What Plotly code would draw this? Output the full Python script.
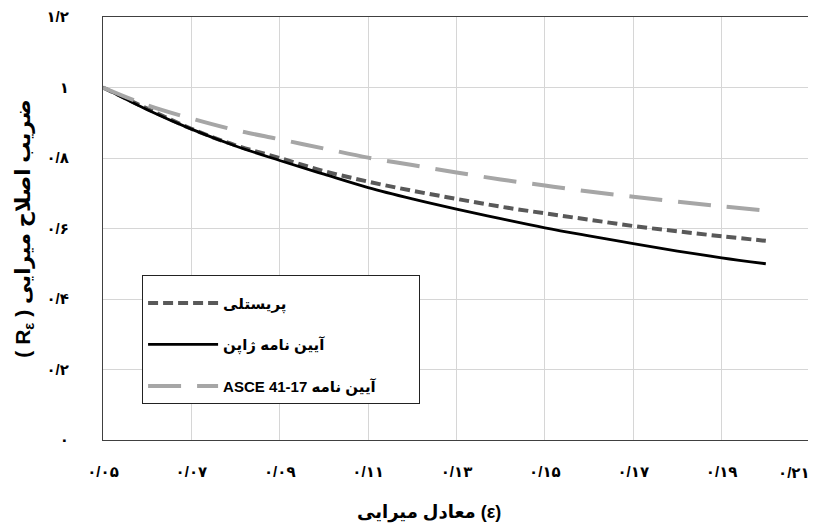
import plotly.graph_objects as go

# Equivalent damping ratio (x) and damping correction factor values
damping = [0.05, 0.06, 0.07, 0.08, 0.09, 0.10, 0.11, 0.12, 0.13, 0.14, 0.15, 0.16, 0.17, 0.18, 0.19, 0.20]
priestley = [1.0, 0.940, 0.883, 0.836, 0.800, 0.763, 0.733, 0.707, 0.684, 0.662, 0.643, 0.625, 0.607, 0.592, 0.578, 0.565]
japan = [1.0, 0.937, 0.882, 0.834, 0.793, 0.754, 0.716, 0.684, 0.655, 0.628, 0.602, 0.579, 0.557, 0.536, 0.517, 0.500]
asce = [1.0, 0.950, 0.912, 0.879, 0.853, 0.827, 0.801, 0.780, 0.759, 0.739, 0.722, 0.705, 0.690, 0.676, 0.663, 0.651]

names = ["پریستلی", "آیین نامه ژاپن", "ASCE 41-17 آیین نامه" + "\u00a0" * 9]

x_tickvals = [0.05, 0.07, 0.09, 0.11, 0.13, 0.15, 0.17, 0.19, 0.21]
x_ticktext = ["۰/۰۵", "۰/۰۷", "۰/۰۹", "۰/۱۱", "۰/۱۳", "۰/۱۵", "۰/۱۷", "۰/۱۹", "۰/۲۱"]
y_tickvals = [0, 0.2, 0.4, 0.6, 0.8, 1.0, 1.2]
y_ticktext = ["۰", "۰/۲", "۰/۴", "۰/۶", "۰/۸", "۱", "۱/۲"]

x_title = "معادل میرایی (ε)"
y_title = "( R<sub>ε</sub> ) ضریب اصلاح میرایی"

FONT = "Liberation Sans, DejaVu Sans, sans-serif"

fig = go.Figure()
fig.add_trace(go.Scatter(x=damping, y=priestley, mode="lines", name=names[0], legendgroup="a",
                         line=dict(color="#595959", width=4, dash="10px,5px", shape="spline")))
fig.add_trace(go.Scatter(x=damping, y=japan, mode="lines", name=names[1], legendgroup="b",
                         line=dict(color="#000000", width=2.8, shape="spline")))
fig.add_trace(go.Scatter(x=damping, y=asce, mode="lines", name=names[2], legendgroup="c",
                         line=dict(color="#a6a6a6", width=4, dash="33px,16px", shape="spline")))

# the page body adds an 8px offset, so the figure is 8px smaller than the window
fig.update_layout(
    width=808, height=521,
    margin=dict(l=95, r=6, t=9, b=89),
    paper_bgcolor="white", plot_bgcolor="white",
    font=dict(family=FONT, size=15, color="black", weight="bold"),
    showlegend=True,
    legend=dict(x=0.055, y=0.39, xanchor="left", yanchor="top",
                bgcolor="white", bordercolor="#222222", borderwidth=1.2,
                font=dict(family=FONT, size=15, color="black", weight="bold"),
                title=dict(text="\u00a0", font=dict(size=8)),
                tracegroupgap=19, itemwidth=70,
                traceorder="grouped"),
)
fig.update_xaxes(range=[0.05, 0.21], tickvals=x_tickvals[:-1], ticktext=x_ticktext[:-1],
                 showgrid=True, gridcolor="#d6d6d6", gridwidth=1,
                 showline=True, linecolor="#404040", linewidth=1.2, mirror=True,
                 zeroline=False, ticks="", ticklabelstandoff=18, automargin=False,
                 tickfont=dict(family=FONT, size=15, weight="bold"))
# last tick label kept inside the figure edge, as in the reference
fig.add_annotation(x=x_tickvals[-1], y=0, xref="x", yref="paper", text=x_ticktext[-1],
                   showarrow=False, xanchor="right", yanchor="middle", xshift=2, yshift=-32,
                   font=dict(family=FONT, size=15, weight="bold", color="black"))
# x-axis title, placed slightly left of centre as in the reference
fig.add_annotation(x=0.461, y=0, xref="paper", yref="paper", text=x_title,
                   showarrow=False, xanchor="center", yanchor="middle", yshift=-72,
                   font=dict(family=FONT, size=18, weight="bold", color="black"))
fig.update_yaxes(range=[0, 1.2], tickvals=y_tickvals, ticktext=y_ticktext,
                 showgrid=True, gridcolor="#d6d6d6", gridwidth=1,
                 showline=True, linecolor="#404040", linewidth=1.2, mirror=True,
                 zeroline=False, ticks="", ticklabelstandoff=30, automargin=False,
                 tickfont=dict(family=FONT, size=15, weight="bold"),
                 title=dict(text=y_title, standoff=10, font=dict(family=FONT, size=21, weight="bold")))

fig.write_html("out.html")
